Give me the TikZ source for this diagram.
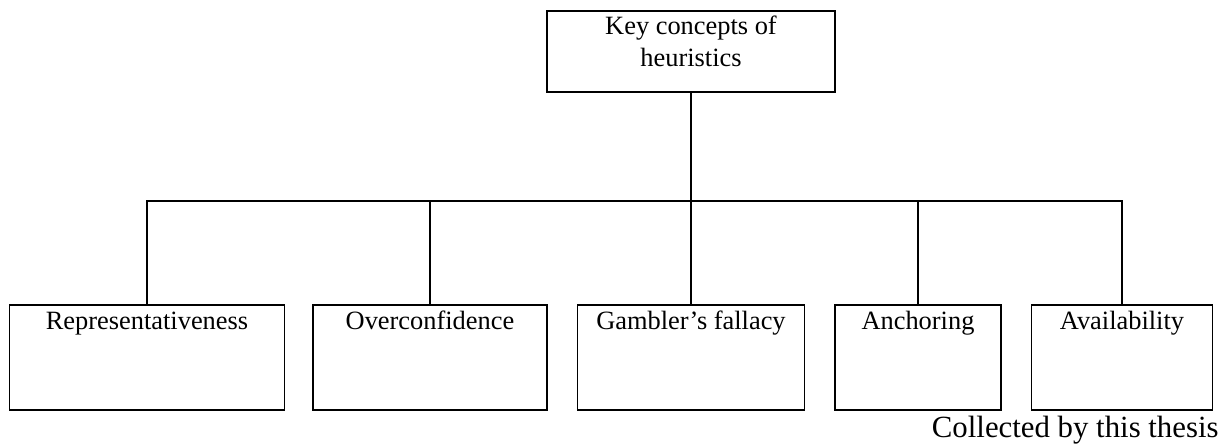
\documentclass[tikz,border=0pt]{standalone}
\usepackage{fontspec}
\setmainfont{Liberation Serif}
\begin{document}
% One unit = one pixel of a 1220 x 447 sheet (0.4545pt); y grows downwards.
\begin{tikzpicture}[x=0.4545pt, y=-0.4545pt,
  treeline/.style={draw=black, line width=0.8pt},
  leafbox/.style={treeline, rectangle, inner xsep=0pt, inner ysep=0pt,
    font=\fontsize{12}{14.5}\selectfont,
    text height=11.36pt, text depth=36.36pt},
  rootbox/.style={treeline, rectangle, inner xsep=0pt, inner ysep=0pt,
    font=\fontsize{12}{14.5}\selectfont,
    text height=10.9pt, text depth=25.9pt},
  note/.style={font=\fontsize{14}{16}\selectfont, inner sep=0pt}]
  \useasboundingbox (0,0) rectangle (1220,447);

  % root of the tree
  \node[rootbox, minimum width=130.9pt] (root) at (691,51.5)
    {\begin{tabular}[t]{@{}c@{}}Key concepts of\\heuristics\end{tabular}};

  % the five heuristics
  \node[leafbox, minimum width=125.0pt] (rep)   at (147,357.5)  {Representativeness};
  \node[leafbox, minimum width=106.4pt] (over)  at (430,357.5)  {Overconfidence};
  \node[leafbox, minimum width=103.2pt] (gamb)  at (691,357.5)  {Gambler’s fallacy};
  \node[leafbox, minimum width=75.4pt]  (anch)  at (918,357.5)  {Anchoring};
  \node[leafbox, minimum width=82.3pt]  (avail) at (1122,357.5) {Availability};

  % source note
  \node[note, anchor=base east] (src) at (1219,437.5) {Collected by this thesis};

  % connectors
  \coordinate (bar) at (691,201);
  \draw[treeline] (root.south) -- (root.south |- bar);
  \draw[treeline] (rep.north) |- (avail.north |- bar) -- (avail.north);
  \draw[treeline] (over.north) -- (over.north |- bar);
  \draw[treeline] (gamb.north) -- (gamb.north |- bar);
  \draw[treeline] (anch.north) -- (anch.north |- bar);
\end{tikzpicture}
\end{document}
